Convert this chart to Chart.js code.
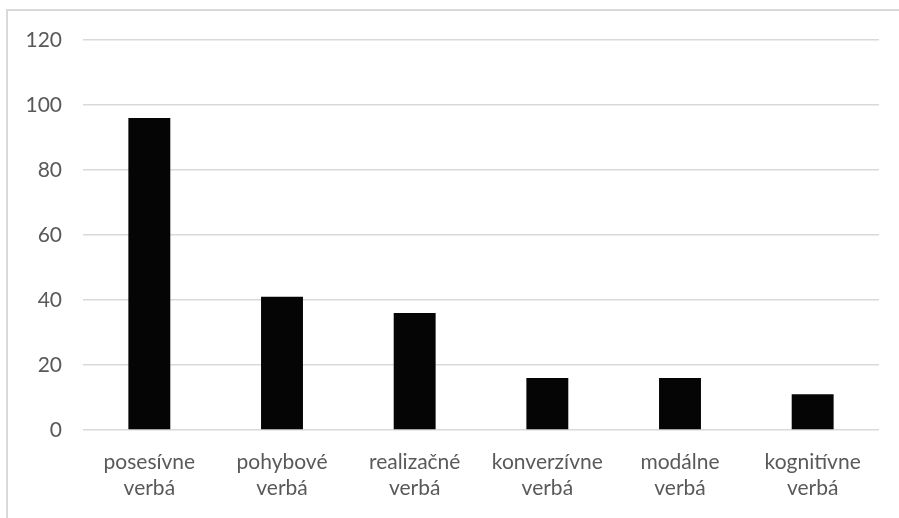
<!DOCTYPE html>
<html lang="sk">
<head>
  <meta charset="UTF-8">
  <title>Verbá</title>
  <style>
    html, body { margin: 0; padding: 0; background: #fff; }
    .wrapper { width: 899px; height: 518px; }
  </style>
</head>
<body>
  <div class="wrapper">
    <canvas id="verbChart" width="899" height="518"></canvas>
  </div>

  <script src="https://cdn.jsdelivr.net/npm/chart.js"></script>
  <script>
    const categories = [
      ['posesívne', 'verbá'],
      ['pohybové', 'verbá'],
      ['realizačné', 'verbá'],
      ['konverzívne', 'verbá'],
      ['modálne', 'verbá'],
      ['kognitívne', 'verbá']
    ]
    const counts = [96, 41, 36, 16, 16, 11]
    const yTicks = [0, 20, 40, 60, 80, 100, 120]

    // thin grey frame along the top and left edge
    const frame = {
      id: 'frame',
      beforeDraw(chart) {
        const c = chart.ctx
        c.save()
        c.strokeStyle = '#d9d9d9'
        c.lineWidth = 2
        c.beginPath()
        c.moveTo(7, 518)
        c.lineTo(7, 10)
        c.lineTo(899, 10)
        c.stroke()
        c.restore()
      }
    }

    const verbChart = new Chart(document.getElementById('verbChart'), {
      type: 'bar',
      data: {
        labels: categories,
        datasets: [{
          data: counts,
          backgroundColor: '#050505',
          borderWidth: 0,
          categoryPercentage: 1,
          barPercentage: 0.316
        }]
      },
      options: {
        responsive: false,
        animation: false,
        layout: { padding: { left: 0, right: 20, top: 40, bottom: 0 } },
        plugins: {
          legend: { display: false },
          tooltip: { enabled: false }
        },
        scales: {
          x: {
            grid: { display: false },
            border: { display: false },
            ticks: {
              color: '#595959',
              font: { family: 'Lato', size: 21 },
              padding: 12,
              maxRotation: 0,
              autoSkip: false
            },
            afterFit(scale) { scale.height = 88 }
          },
          y: {
            min: 0,
            max: 120,
            afterBuildTicks(scale) {
              scale.ticks = yTicks.map(v => ({ value: v }))
            },
            grid: { color: '#d9d9d9', lineWidth: 1.5, drawTicks: false },
            border: { display: false },
            ticks: {
              color: '#595959',
              font: { family: 'Lato', size: 21 },
              padding: 21
            },
            afterFit(scale) { scale.width = 83 }
          }
        }
      },
      plugins: [frame]
    })
  </script>
</body>
</html>
